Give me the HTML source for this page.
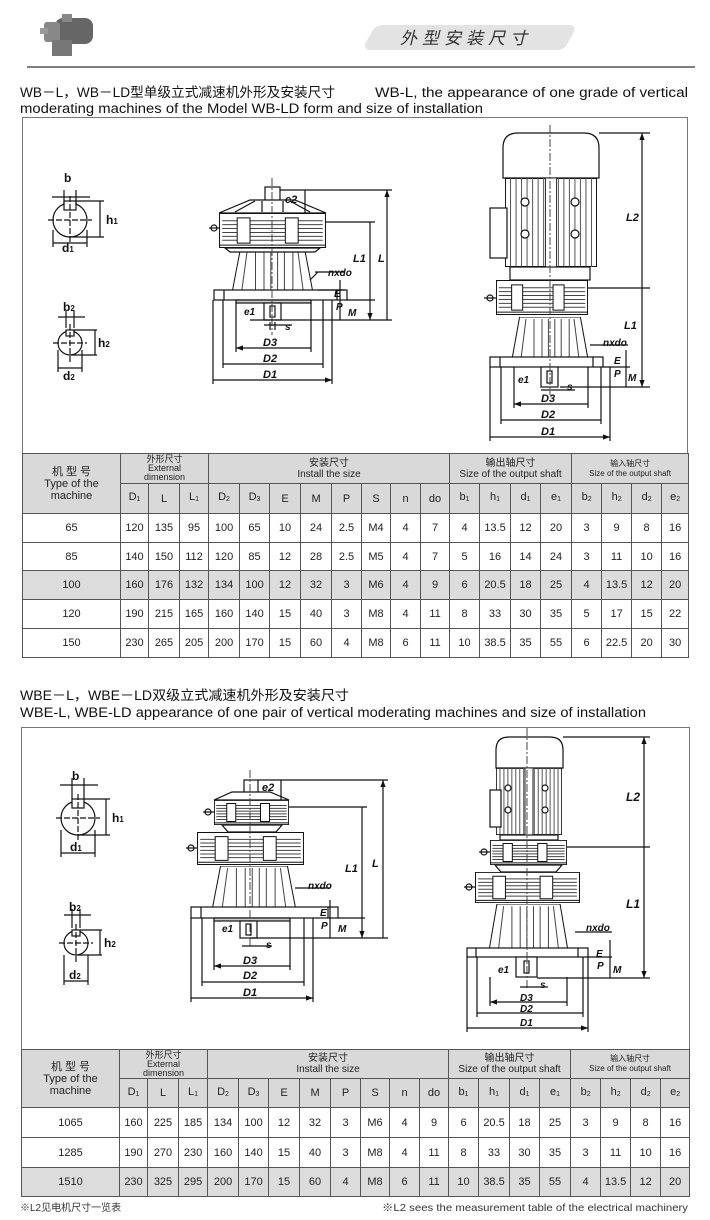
<!DOCTYPE html>
<html><head><meta charset="utf-8"><style>
body{margin:0;background:#fff;}
#w{position:relative;width:710px;height:1220px;overflow:hidden;background:#fff;font-family:"Liberation Sans","Noto Sans CJK SC",sans-serif;}
svg{position:absolute;left:0;top:0;}
table{position:absolute;border-collapse:collapse;table-layout:fixed;font-family:"Liberation Sans","Noto Sans CJK SC",sans-serif;color:#222;}
td,th{border:1px solid #555;padding:0;text-align:center;font-weight:normal;font-size:11px;line-height:10px;overflow:hidden;white-space:nowrap;}
th{background:#d9d9d9;}
tr.g td{background:#dcdcdc;}
sub{font-size:7px;vertical-align:-1px;}
.gh{font-size:9px;line-height:9px;}
</style></head><body><div id="w">
<svg width="710" height="1220" viewBox="0 0 710 1220" xmlns="http://www.w3.org/2000/svg">
<defs>
<marker id="a" viewBox="0 0 8 6" refX="8" refY="3" markerWidth="6" markerHeight="5" orient="auto-start-reverse"><path d="M0,0L8,3L0,6z" fill="#111"/></marker>
<symbol id="hs" viewBox="0 0 100 36" preserveAspectRatio="none">
<rect x="0.5" y="0.5" width="99" height="35" fill="#fff" stroke="#111" vector-effect="non-scaling-stroke"/>
<g stroke="#444"><path d="M3,8H97M3,12H97M3,16H97M3,20H97M3,24H97M3,28H97" vector-effect="non-scaling-stroke"/></g>
<rect x="17" y="5" width="12" height="26" fill="#fff" stroke="#111" vector-effect="non-scaling-stroke"/>
<rect x="62" y="5" width="12" height="26" fill="#fff" stroke="#111" vector-effect="non-scaling-stroke"/>
<path d="M0,33H100" stroke="#111" vector-effect="non-scaling-stroke"/>
</symbol>
<symbol id="cn" viewBox="0 0 100 40" preserveAspectRatio="none">
<path d="M12,0H88L97,40H3Z" fill="#fff" stroke="#111" vector-effect="non-scaling-stroke"/>
<path d="M30,2V40M40,2V40M48,2V40M56,2V40M64,2V40M74,2V40M20,2L14,40M80,2L86,40" stroke="#444" fill="none" vector-effect="non-scaling-stroke"/>
</symbol>
<symbol id="mt" viewBox="0 0 100 100" preserveAspectRatio="none">
<rect x="0.5" y="0.5" width="99" height="99" fill="#fff" stroke="#111" vector-effect="non-scaling-stroke"/>
<path d="M6,0V100M12,0V100M18,0V100M24,0V100M30,0V100M36,0V100M42,0V100M58,0V100M64,0V100M70,0V100M76,0V100M82,0V100M88,0V100M94,0V100" stroke="#555" vector-effect="non-scaling-stroke"/>
<rect x="44" y="0" width="12" height="100" fill="#fff" stroke="#333" vector-effect="non-scaling-stroke"/>
</symbol>
</defs>

<g>
<rect x="55" y="18" width="38" height="26" rx="8" fill="#666"/>
<rect x="44" y="22" width="16" height="20" rx="3" fill="#888"/>
<rect x="40" y="28" width="8" height="6" fill="#999"/>
<rect x="52" y="40" width="20" height="16" fill="#777"/>
<rect x="62" y="14" width="10" height="8" fill="#888"/>
<path d="M385,25H568Q578,25 573,34L566,46Q563,50 556,50H372Q362,50 366,42L373,30Q376,25 385,25Z" fill="#e3e3e3"/>
<text x="466" y="44" font-size="17" font-style="italic" text-anchor="middle" fill="#333" letter-spacing="5" font-family="Liberation Sans,Noto Sans CJK SC,sans-serif">外型安装尺寸</text>
<line x1="27" y1="67" x2="695" y2="67" stroke="#555" stroke-width="1.5"/>
<text x="20" y="97" font-size="13.5" fill="#111" textLength="315" lengthAdjust="spacingAndGlyphs">WB－L，WB－LD型单级立式减速机外形及安装尺寸</text>
<text x="375" y="97" font-size="13.5" fill="#111" textLength="313" lengthAdjust="spacingAndGlyphs">WB-L, the appearance of one grade of vertical</text>
<text x="20" y="113" font-size="13.5" fill="#111" textLength="463" lengthAdjust="spacingAndGlyphs">moderating machines of the Model WB-LD form and size of installation</text>
</g>

<rect x="22.5" y="117.5" width="665" height="336" fill="none" stroke="#777"/>

<g stroke="#111" fill="none" stroke-width="1.2">
<circle cx="70" cy="220" r="17" fill="#fff"/>
<rect x="64" y="201" width="12" height="9" fill="#fff"/>
<path d="M48,220H92M70,196V244" stroke-dasharray="6,2"/>
<path d="M52,197H90M64,190V205M76,190V205"/>
<path d="M76,201H104M70,237H104M100,201V237"/>
<path d="M53,243H87M53,230V247M87,230V247"/>
<circle cx="70" cy="343" r="12" fill="#fff"/>
<rect x="66" y="330" width="8" height="6" fill="#fff"/>
<path d="M53,343H87M70,324V362" stroke-dasharray="6,2"/>
<path d="M58,317H85M66,311V328M74,311V328"/>
<path d="M74,330H97M70,355H97M95,330V355"/>
<path d="M58,368H82M58,350V372M82,350V372"/>
<rect x="265" y="187" width="15" height="26" fill="#fff"/>
<path d="M250,200H295L326,213H219Z" fill="#fff"/>
<path d="M255,201L235,212M290,201L310,212M262,201V212M283,201V212"/>
</g>
<use href="#hs" x="219" y="213" width="107" height="35"/>
<use href="#cn" x="230" y="250" width="85" height="40"/>
<g stroke="#111" fill="none" stroke-width="1.2">
<path d="M225,248H320L315,252H230Z" fill="#fff"/>
<circle cx="214" cy="228" r="3"/><path d="M209,228H219"/>
<rect x="214" y="290" width="133" height="10" fill="#fff"/>
<path d="M224,290V300M337,290V300"/>
<rect x="236" y="300" width="75" height="3" fill="#ccc"/>
<rect x="264" y="303" width="17" height="17" fill="#fff"/>
<rect x="270" y="306" width="5" height="11"/>
<path d="M272,178V335" stroke-dasharray="8,2,2,2" stroke="#444" stroke-width="1"/>
<path d="M280,190H392M305,190V213M326,222H375M250,320H392M347,300H375"/>
<path d="M387,190V320M370,222V320" marker-start="url(#a)" marker-end="url(#a)"/>
<path d="M236,303V352M311,303V352M223,300V368M323,300V368M213,300V384M332,300V384"/>
<path d="M236,348H311M223,364H323M213,380H332" marker-start="url(#a)" marker-end="url(#a)"/>
<path d="M340,280V300M318,290H345M340,300V320"/>
<path d="M315,272H345M318,272L310,280"/>
<path d="M264,325H292M270,322V330M275,322V330"/>
</g>
<g font-size="12" font-style="italic" font-weight="bold" fill="#111" font-family="Liberation Sans,sans-serif">
<text x="64" y="182" font-style="normal">b</text>
<text x="62" y="252" font-style="normal">d<tspan font-size="8">1</tspan></text>
<text x="106" y="224" font-style="normal">h<tspan font-size="8">1</tspan></text>
<text x="63" y="311" font-style="normal">b<tspan font-size="8">2</tspan></text>
<text x="63" y="380" font-style="normal">d<tspan font-size="8">2</tspan></text>
<text x="98" y="347" font-style="normal">h<tspan font-size="8">2</tspan></text>
<text x="285" y="203" font-size="11">e2</text>
<text x="353" y="262" font-size="11">L1</text>
<text x="378" y="262" font-size="11">L</text>
<text x="328" y="276" font-size="10">nxdo</text>
<text x="334" y="297" font-size="10">E</text>
<text x="336" y="310" font-size="10">P</text>
<text x="348" y="316" font-size="10">M</text>
<text x="244" y="315" font-size="10">e1</text>
<text x="285" y="330" font-size="10">s</text>
<text x="263" y="346" font-size="11">D3</text>
<text x="263" y="362" font-size="11">D2</text>
<text x="263" y="378" font-size="11">D1</text>
</g>

<g stroke="#111" fill="none" stroke-width="1.2">
<path d="M503,178V148Q503,133 518,133H584Q599,133 599,148V178Z" fill="#fff"/>
</g>
<use href="#mt" x="505" y="178" width="92" height="89"/>
<g stroke="#111" fill="none" stroke-width="1.2">
<rect x="490" y="208" width="17" height="50" fill="#fff"/>
<circle cx="525" cy="202" r="4" fill="#fff"/><circle cx="575" cy="202" r="4" fill="#fff"/>
<circle cx="525" cy="234" r="4" fill="#fff"/><circle cx="575" cy="234" r="4" fill="#fff"/>
<rect x="510" y="267" width="80" height="13" fill="#fff"/>
</g>
<use href="#hs" x="496" y="280" width="92" height="35"/>
<use href="#cn" x="510" y="317" width="80" height="40"/>
<g stroke="#111" fill="none" stroke-width="1.2">
<circle cx="490" cy="298" r="3"/><path d="M484,298H496"/>
<rect x="490" y="357" width="113" height="10" fill="#fff"/>
<path d="M500,357V367M593,357V367"/>
<rect x="541" y="367" width="17" height="20" fill="#fff"/>
<rect x="547" y="371" width="5" height="12"/>
<path d="M550,125V395" stroke-dasharray="8,2,2,2" stroke="#444" stroke-width="1"/>
<path d="M599,133H650M588,288H650M560,387H650M603,367H630"/>
<path d="M642,133V288M642,288V387" marker-start="url(#a)" marker-end="url(#a)"/>
<path d="M514,367V408M588,367V408M501,367V424M601,367V424M490,367V441M610,367V441"/>
<path d="M514,404H588M501,420H601M490,437H610" marker-start="url(#a)" marker-end="url(#a)"/>
<path d="M626,350V367M626,367V387M590,345H628"/>
<path d="M541,390H575"/>
</g>
<g font-size="11" font-style="italic" font-weight="bold" fill="#111" font-family="Liberation Sans,sans-serif">
<text x="626" y="221">L2</text>
<text x="624" y="329">L1</text>
<text x="603" y="346" font-size="10">nxdo</text>
<text x="614" y="364" font-size="10">E</text>
<text x="614" y="377" font-size="10">P</text>
<text x="628" y="381" font-size="10">M</text>
<text x="518" y="383" font-size="10">e1</text>
<text x="567" y="390" font-size="10">s</text>
<text x="541" y="402">D3</text>
<text x="541" y="418">D2</text>
<text x="541" y="435">D1</text>
</g>

<text x="20" y="700" font-size="13.5" fill="#111" textLength="329" lengthAdjust="spacingAndGlyphs">WBE－L，WBE－LD双级立式减速机外形及安装尺寸</text>
<text x="20" y="717" font-size="13.5" fill="#111" textLength="626" lengthAdjust="spacingAndGlyphs">WBE-L, WBE-LD appearance of one pair of vertical moderating machines and size of installation</text>
<rect x="21.5" y="727.5" width="668" height="322" fill="none" stroke="#777"/>

<g stroke="#111" fill="none" stroke-width="1.2">
<circle cx="78" cy="818" r="17" fill="#fff"/>
<rect x="72" y="799" width="12" height="9" fill="#fff"/>
<path d="M56,818H100M78,794V842" stroke-dasharray="6,2"/>
<path d="M60,785H98M72,778V800M84,778V800"/>
<path d="M84,799H110M78,835H110M106,799V835"/>
<path d="M61,853H95M61,830V857M95,830V857"/>
<circle cx="76" cy="943" r="12" fill="#fff"/>
<rect x="72" y="930" width="8" height="6" fill="#fff"/>
<path d="M59,943H93M76,924V962" stroke-dasharray="6,2"/>
<path d="M64,915H91M72,909V928M80,909V928"/>
<path d="M80,930H102M76,955H102M100,930V955"/>
<path d="M64,981H88M64,955V985M88,955V985"/>
<rect x="244" y="780" width="14" height="20" fill="#fff"/>
<path d="M232,792H270L289,800H214Z" fill="#fff"/>
</g>
<use href="#hs" x="214" y="800" width="75" height="25"/>
<g stroke="#111" fill="none" stroke-width="1.2"><path d="M222,825H282L276,832H228Z" fill="#fff"/><circle cx="208" cy="812" r="3"/><path d="M203,812H214"/></g>
<use href="#hs" x="197" y="832" width="107" height="33"/>
<use href="#cn" x="210" y="866" width="88" height="41"/>
<g stroke="#111" fill="none" stroke-width="1.2">
<circle cx="191" cy="848" r="3"/><path d="M186,848H197"/>
<rect x="191" y="907" width="147" height="11" fill="#fff"/>
<path d="M201,907V918M328,907V918"/>
<rect x="214" y="918" width="76" height="3" fill="#ccc"/>
<rect x="240" y="921" width="17" height="17" fill="#fff"/>
<rect x="246" y="924" width="5" height="11"/>
<path d="M250,770V948" stroke-dasharray="8,2,2,2" stroke="#444" stroke-width="1"/>
<path d="M258,780H388M281,780V800M289,807H367M250,938H388M338,918H365"/>
<path d="M383,780V938M362,807V938" marker-start="url(#a)" marker-end="url(#a)"/>
<path d="M214,921V970M290,921V970M202,918V986M304,918V986M191,918V1002M313,918V1002"/>
<path d="M214,966H290M202,982H304M191,998H313" marker-start="url(#a)" marker-end="url(#a)"/>
<path d="M330,900V918M330,918V938M295,888H330"/>
<path d="M242,946H272"/>
<path d="M496,768V750Q496,737 509,737H550Q563,737 563,750V768Z" fill="#fff"/>
</g>
<use href="#mt" x="496" y="768" width="66" height="67"/>
<g stroke="#111" fill="none" stroke-width="1.2">
<rect x="490" y="790" width="11" height="37" fill="#fff"/>
<circle cx="508" cy="788" r="3" fill="#fff"/><circle cx="545" cy="788" r="3" fill="#fff"/>
<circle cx="508" cy="810" r="3" fill="#fff"/><circle cx="545" cy="810" r="3" fill="#fff"/>
<rect x="500" y="835" width="58" height="5" fill="#fff"/>
</g>
<use href="#hs" x="490" y="840" width="77" height="25"/>
<g stroke="#111" fill="none" stroke-width="1.2"><path d="M495,865H562L556,872H501Z" fill="#fff"/><circle cx="484" cy="852" r="3"/><path d="M479,852H490"/></g>
<use href="#hs" x="475" y="872" width="105" height="31"/>
<use href="#cn" x="487" y="904" width="83" height="44"/>
<g stroke="#111" fill="none" stroke-width="1.2">
<circle cx="469" cy="887" r="3"/><path d="M464,887H475"/>
<rect x="467" y="948" width="121" height="9" fill="#fff"/>
<path d="M476,948V957M578,948V957"/>
<rect x="516" y="957" width="21" height="20" fill="#fff"/>
<rect x="524" y="961" width="5" height="12"/>
<path d="M527,728V990" stroke-dasharray="8,2,2,2" stroke="#444" stroke-width="1"/>
<path d="M563,737H650M567,847H650M537,978H650M588,957H612"/>
<path d="M644,737V847M644,847V978" marker-start="url(#a)" marker-end="url(#a)"/>
<path d="M490,977V1006M567,977V1006M477,957V1017M583,957V1017M467,957V1032M588,957V1032"/>
<path d="M490,1002H567M477,1013H583M467,1028H588" marker-start="url(#a)" marker-end="url(#a)"/>
<path d="M610,940V957M610,957V978M575,932H612"/>
<path d="M520,987H548"/>
</g>
<g font-size="12" font-style="italic" font-weight="bold" fill="#111" font-family="Liberation Sans,sans-serif">
<text x="72" y="780" font-style="normal">b</text>
<text x="70" y="851" font-style="normal">d<tspan font-size="8">1</tspan></text>
<text x="112" y="822" font-style="normal">h<tspan font-size="8">1</tspan></text>
<text x="69" y="911" font-style="normal">b<tspan font-size="8">2</tspan></text>
<text x="69" y="979" font-style="normal">d<tspan font-size="8">2</tspan></text>
<text x="104" y="947" font-style="normal">h<tspan font-size="8">2</tspan></text>
<text x="262" y="791" font-size="11">e2</text>
<text x="345" y="872" font-size="11">L1</text>
<text x="372" y="867" font-size="11">L</text>
<text x="308" y="889" font-size="10">nxdo</text>
<text x="320" y="916" font-size="10">E</text>
<text x="321" y="929" font-size="10">P</text>
<text x="338" y="932" font-size="10">M</text>
<text x="222" y="932" font-size="10">e1</text>
<text x="266" y="948" font-size="10">s</text>
<text x="243" y="964" font-size="11">D3</text>
<text x="243" y="979" font-size="11">D2</text>
<text x="243" y="996" font-size="11">D1</text>
<text x="626" y="801">L2</text>
<text x="626" y="908">L1</text>
<text x="586" y="931" font-size="10">nxdo</text>
<text x="596" y="957" font-size="10">E</text>
<text x="597" y="969" font-size="10">P</text>
<text x="613" y="973" font-size="10">M</text>
<text x="498" y="973" font-size="10">e1</text>
<text x="540" y="988" font-size="10">s</text>
<text x="520" y="1001" font-size="10">D3</text>
<text x="520" y="1012" font-size="10">D2</text>
<text x="520" y="1026" font-size="10">D1</text>
</g>

<text x="20" y="1211" font-size="10" fill="#333">※L2见电机尺寸一览表</text>
<text x="382" y="1211" font-size="10.5" fill="#333" textLength="306" lengthAdjust="spacingAndGlyphs">※L2 sees the measurement table of the electrical machinery</text>
</svg>

<table style="left:22px;top:453px;width:666px;">
<colgroup><col style="width:98px"><col style="width:28px"><col style="width:31px"><col style="width:29px"><col style="width:31px"><col style="width:30px"><col style="width:31px"><col style="width:31px"><col style="width:30px"><col style="width:29px"><col style="width:30px"><col style="width:29px"><col style="width:30px"><col style="width:31px"><col style="width:30px"><col style="width:31px"><col style="width:30px"><col style="width:30px"><col style="width:30px"><col style="width:27px"></colgroup>
<tr style="height:30px"><th rowspan="2" style="font-size:11px;line-height:12px">机 型 号<br>Type of the<br>machine</th><th colspan="3" class="gh">外形尺寸<br>External<br>dimension</th><th colspan="8" style="font-size:10px;line-height:11px">安装尺寸<br>Install the size</th><th colspan="4" style="font-size:10px;line-height:11px">输出轴尺寸<br>Size of the output shaft</th><th colspan="4" style="font-size:8px;line-height:10px">输入轴尺寸<br>Size of the output shaft</th></tr>
<tr style="height:30px"><th>D<sub>1</sub></th><th>L</th><th>L<sub>1</sub></th><th>D<sub>2</sub></th><th>D<sub>3</sub></th><th>E</th><th>M</th><th>P</th><th>S</th><th>n</th><th>do</th><th>b<sub>1</sub></th><th>h<sub>1</sub></th><th>d<sub>1</sub></th><th>e<sub>1</sub></th><th>b<sub>2</sub></th><th>h<sub>2</sub></th><th>d<sub>2</sub></th><th>e<sub>2</sub></th></tr>
<tr style="height:29px"><td>65</td><td>120</td><td>135</td><td>95</td><td>100</td><td>65</td><td>10</td><td>24</td><td>2.5</td><td>M4</td><td>4</td><td>7</td><td>4</td><td>13.5</td><td>12</td><td>20</td><td>3</td><td>9</td><td>8</td><td>16</td></tr>
<tr style="height:28px"><td>85</td><td>140</td><td>150</td><td>112</td><td>120</td><td>85</td><td>12</td><td>28</td><td>2.5</td><td>M5</td><td>4</td><td>7</td><td>5</td><td>16</td><td>14</td><td>24</td><td>3</td><td>11</td><td>10</td><td>16</td></tr>
<tr class="g" style="height:29px"><td>100</td><td>160</td><td>176</td><td>132</td><td>134</td><td>100</td><td>12</td><td>32</td><td>3</td><td>M6</td><td>4</td><td>9</td><td>6</td><td>20.5</td><td>18</td><td>25</td><td>4</td><td>13.5</td><td>12</td><td>20</td></tr>
<tr style="height:29px"><td>120</td><td>190</td><td>215</td><td>165</td><td>160</td><td>140</td><td>15</td><td>40</td><td>3</td><td>M8</td><td>4</td><td>11</td><td>8</td><td>33</td><td>30</td><td>35</td><td>5</td><td>17</td><td>15</td><td>22</td></tr>
<tr style="height:29px"><td>150</td><td>230</td><td>265</td><td>205</td><td>200</td><td>170</td><td>15</td><td>60</td><td>4</td><td>M8</td><td>6</td><td>11</td><td>10</td><td>38.5</td><td>35</td><td>55</td><td>6</td><td>22.5</td><td>20</td><td>30</td></tr>
</table>

<table style="left:21px;top:1049px;width:668px;">
<colgroup><col style="width:98px"><col style="width:28px"><col style="width:31px"><col style="width:29px"><col style="width:31px"><col style="width:30px"><col style="width:31px"><col style="width:31px"><col style="width:30px"><col style="width:29px"><col style="width:30px"><col style="width:29px"><col style="width:30px"><col style="width:31px"><col style="width:30px"><col style="width:31px"><col style="width:30px"><col style="width:30px"><col style="width:30px"><col style="width:29px"></colgroup>
<tr style="height:29px"><th rowspan="2" style="font-size:11px;line-height:12px">机 型 号<br>Type of the<br>machine</th><th colspan="3" class="gh">外形尺寸<br>External<br>dimension</th><th colspan="8" style="font-size:10px;line-height:11px">安装尺寸<br>Install the size</th><th colspan="4" style="font-size:10px;line-height:11px">输出轴尺寸<br>Size of the output shaft</th><th colspan="4" style="font-size:8px;line-height:10px">输入轴尺寸<br>Size of the output shaft</th></tr>
<tr style="height:29px"><th>D<sub>1</sub></th><th>L</th><th>L<sub>1</sub></th><th>D<sub>2</sub></th><th>D<sub>3</sub></th><th>E</th><th>M</th><th>P</th><th>S</th><th>n</th><th>do</th><th>b<sub>1</sub></th><th>h<sub>1</sub></th><th>d<sub>1</sub></th><th>e<sub>1</sub></th><th>b<sub>2</sub></th><th>h<sub>2</sub></th><th>d<sub>2</sub></th><th>e<sub>2</sub></th></tr>
<tr style="height:30px"><td>1065</td><td>160</td><td>225</td><td>185</td><td>134</td><td>100</td><td>12</td><td>32</td><td>3</td><td>M6</td><td>4</td><td>9</td><td>6</td><td>20.5</td><td>18</td><td>25</td><td>3</td><td>9</td><td>8</td><td>16</td></tr>
<tr style="height:30px"><td>1285</td><td>190</td><td>270</td><td>230</td><td>160</td><td>140</td><td>15</td><td>40</td><td>3</td><td>M8</td><td>4</td><td>11</td><td>8</td><td>33</td><td>30</td><td>35</td><td>3</td><td>11</td><td>10</td><td>16</td></tr>
<tr class="g" style="height:29px"><td>1510</td><td>230</td><td>325</td><td>295</td><td>200</td><td>170</td><td>15</td><td>60</td><td>4</td><td>M8</td><td>6</td><td>11</td><td>10</td><td>38.5</td><td>35</td><td>55</td><td>4</td><td>13.5</td><td>12</td><td>20</td></tr>
</table>
</div></body></html>
